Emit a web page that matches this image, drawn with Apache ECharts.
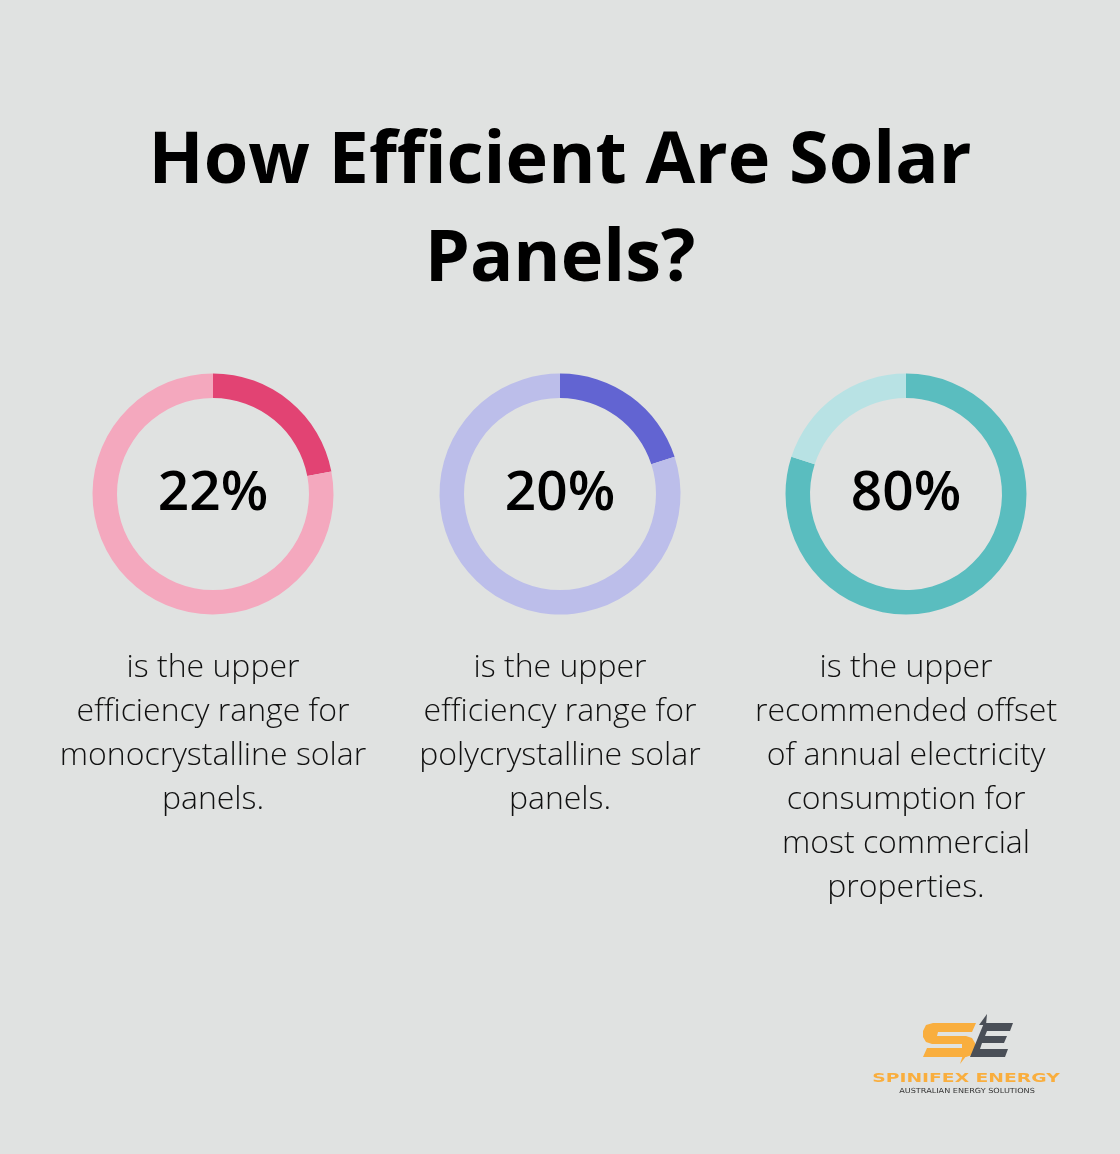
<!DOCTYPE html>
<html><head><meta charset="utf-8">
<script src="https://cdn.jsdelivr.net/npm/echarts@6/dist/echarts.min.js"></script>
<style>html,body{margin:0;padding:0;background:#e0e2e1}#c{width:1120px;height:1154px}</style>
</head><body><div id="c"></div>
<script>
const titleText = "How Efficient Are Solar\nPanels?";
const values = [22, 20, 80];
const labels = ["22%", "20%", "80%"];
const descriptions = [
  "is the upper\nefficiency range for\nmonocrystalline solar\npanels.",
  "is the upper\nefficiency range for\npolycrystalline solar\npanels.",
  "is the upper\nrecommended offset\nof annual electricity\nconsumption for\nmost commercial\nproperties."
];
const darkColors = ["#e24373", "#6264d2", "#5abdbf"];
const lightColors = ["#f4a8be", "#bcbeea", "#b8e2e4"];
const centersX = [213, 560, 906];
const brandName = "SPINIFEX ENERGY";
const brandTag = "AUSTRALIAN ENERGY SOLUTIONS";

const chart = echarts.init(document.getElementById('c'));
const series = values.map((v, i) => ({
  type: 'pie',
  center: [centersX[i], 494],
  radius: [96, 120.5],
  startAngle: 90,
  clockwise: true,
  silent: true,
  label: { show: false },
  labelLine: { show: false },
  emphasis: { disabled: true },
  data: [
    { value: v, itemStyle: { color: darkColors[i] },
      label: { show: true, position: 'center', formatter: labels[i],
               fontFamily: 'Open Sans', fontSize: 55, fontWeight: 600, color: '#000' } },
    { value: 100 - v, itemStyle: { color: lightColors[i] } }
  ]
}));

const graphics = descriptions.map((d, i) => ({
  type: 'text', x: centersX[i], y: 646,
  style: { text: d, align: 'center', verticalAlign: 'top', fill: '#111',
           font: '300 32px "Open Sans"', lineHeight: 44 }
}));

// logo (S in orange, E in grey, split by a lightning slash)
graphics.push({
  type: 'polygon', shape: { points: [
    [933,1023],[976,1023],[972,1032],[938,1032],[937,1036],[966,1036],[972,1038],[975,1043],
    [975,1050],[972,1055],[966,1057],[923,1057],[927,1048],[962,1048],[962,1044],[932,1044],
    [926,1042],[923,1037],[923,1031],[926,1025]
  ] },
  style: { fill: '#f9ae3e' }
});
graphics.push({
  type: 'polygon', shape: { points: [[967,1055],[960,1064],[963,1055]] },
  style: { fill: '#f9ae3e' }
});
graphics.push({
  type: 'polygon', shape: { points: [
    [984,1023],[1013,1023],[1010,1031],[987,1031],[985,1036],[1007,1036],[1004,1043],[982,1043],
    [980,1049],[1008,1049],[1005,1057],[970,1057]
  ] },
  style: { fill: '#4a4f57' }
});
graphics.push({
  type: 'polygon', shape: { points: [[979,1025],[987,1014],[986,1025]] },
  style: { fill: '#4a4f57' }
});
graphics.push({
  type: 'text', x: 966, y: 1079, scaleX: 1.56,
  style: { text: brandName, align: 'center', verticalAlign: 'middle', fill: '#f9ae3e',
           font: 'bold 12px "DejaVu Sans"' }
});
graphics.push({
  type: 'text', x: 967, y: 1091, scaleX: 1.16,
  style: { text: brandTag, align: 'center', verticalAlign: 'middle', fill: '#333',
           font: '7px "DejaVu Sans"' }
});

chart.setOption({
  backgroundColor: '#e0e2e1',
  animation: false,
  title: {
    text: titleText, left: 'center', top: 108,
    textStyle: { fontFamily: 'Open Sans', fontSize: 72, fontWeight: 'bold', color: '#000', lineHeight: 98 }
  },
  series: series,
  graphic: graphics
});
</script></body></html>
